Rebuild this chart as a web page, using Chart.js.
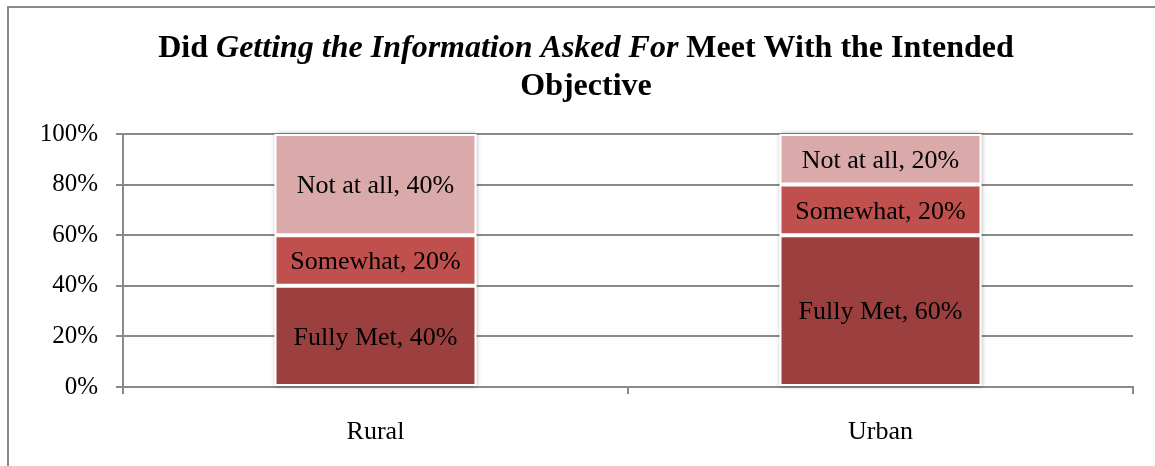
<!DOCTYPE html>
<html>
<head>
<meta charset="utf-8">
<script src="https://cdn.jsdelivr.net/npm/chart.js@4"></script>
<style>
  body { margin: 0; background: #fff; }
  #wrap { position: relative; width: 1155px; height: 466px; overflow: hidden; }
  #frame {
    position: absolute; left: 7px; top: 6px; width: 1200px; height: 500px;
    border-left: 2px solid #8a8a8a; border-top: 2px solid #8a8a8a;
  }
  canvas { position: absolute; left: 0; top: 0; }
</style>
</head>
<body>
<div id="wrap">
  <div id="frame"></div>
  <canvas id="myChart" width="1155" height="466"></canvas>
</div>
<script>
"use strict";

const categories = ["Rural", "Urban"];
const seriesNames = ["Fully Met", "Somewhat", "Not at all"];
const fullyMet = [40, 60];
const somewhat = [20, 20];
const notAtAll = [40, 20];
const seriesColors = ["#9b403e", "#c0504d", "#d9aaa9"];
// title pieces, the middle one is italic
const titleLine1 = [
  ["Did ", false],
  ["Getting the Information Asked For", true],
  [" Meet With the Intended", false],
];
const titleLine2 = "Objective";

const serif = "'Liberation Serif', 'Times New Roman', serif";

// title drawn by hand so part of it can be italic
const mixedTitle = {
  id: "mixedTitle",
  afterDraw(chart) {
    const ctx = chart.ctx;
    const cx = 586;
    const upright = "bold 32px " + serif;
    const slanted = "italic bold 32px " + serif;
    ctx.save();
    ctx.fillStyle = "#000";
    ctx.textBaseline = "alphabetic";
    ctx.textAlign = "left";
    let total = 0;
    titleLine1.forEach((p) => {
      ctx.font = p[1] ? slanted : upright;
      total += ctx.measureText(p[0]).width;
    });
    let x = cx - total / 2;
    titleLine1.forEach((p) => {
      ctx.font = p[1] ? slanted : upright;
      ctx.fillText(p[0], x, 57);
      x += ctx.measureText(p[0]).width;
    });
    ctx.font = upright;
    ctx.textAlign = "center";
    ctx.fillText(titleLine2, cx, 95);
    ctx.restore();
  },
};

// soft grey halo behind each stacked column
const barShadow = {
  id: "barShadow",
  beforeDatasetsDraw(chart) {
    const ctx = chart.ctx;
    const first = chart.getDatasetMeta(0).data;
    const last = chart.getDatasetMeta(chart.data.datasets.length - 1).data;
    ctx.save();
    ctx.shadowColor = "rgba(0,0,0,0.35)";
    ctx.shadowBlur = 5;
    ctx.fillStyle = "#ffffff";
    first.forEach((bar, j) => {
      const top = last[j].y;
      const bottom = bar.base;
      ctx.fillRect(bar.x - bar.width / 2, top, bar.width, bottom - top);
    });
    ctx.restore();
  },
};

// writes "Name, value%" in the middle of every bar segment
const segmentLabels = {
  id: "segmentLabels",
  afterDatasetsDraw(chart) {
    const ctx = chart.ctx;
    ctx.save();
    ctx.font = "26px " + serif;
    ctx.fillStyle = "#000";
    ctx.textAlign = "center";
    ctx.textBaseline = "middle";
    chart.data.datasets.forEach((ds, i) => {
      const meta = chart.getDatasetMeta(i);
      meta.data.forEach((bar, j) => {
        const midY = (bar.y + bar.base) / 2;
        ctx.fillText(ds.label + ", " + ds.data[j] + "%", bar.x, midY + 2);
      });
    });
    ctx.restore();
  },
};

const data = {
  labels: categories,
  datasets: [
    { label: seriesNames[0], data: fullyMet, backgroundColor: seriesColors[0] },
    { label: seriesNames[1], data: somewhat, backgroundColor: seriesColors[1] },
    { label: seriesNames[2], data: notAtAll, backgroundColor: seriesColors[2] },
  ].map((d) => Object.assign(d, {
    borderColor: "#ffffff",
    borderWidth: 2,
    borderSkipped: false,
    barPercentage: 0.4,
    categoryPercentage: 1,
  })),
};

const config = {
  type: "bar",
  data: data,
  options: {
    responsive: false,
    animation: false,
    layout: { padding: { top: 134, right: 22, left: 0, bottom: 0 } },
    plugins: {
      legend: { display: false },
      title: { display: false },
      tooltip: { enabled: false },
    },
    scales: {
      x: {
        stacked: true,
        grid: {
          drawOnChartArea: false,
          drawTicks: true,
          tickLength: 7,
          color: "#8a8a8a",
          lineWidth: 2,
        },
        border: { color: "#8a8a8a", width: 2 },
        ticks: {
          color: "#000",
          font: { family: serif, size: 26 },
          padding: 23,
        },
        afterFit(scale) { scale.height = 79; },
      },
      y: {
        stacked: true,
        min: 0,
        max: 100,
        grid: { color: "#8a8a8a", lineWidth: 2, tickLength: 7 },
        border: { color: "#8a8a8a", width: 2 },
        ticks: {
          stepSize: 20,
          color: "#000",
          font: { family: serif, size: 25 },
          padding: 18,
          callback: (v) => v + "%",
        },
        afterFit(scale) { scale.width = 123; },
      },
    },
  },
  plugins: [barShadow, segmentLabels, mixedTitle],
};

const myChart = new Chart(document.getElementById("myChart"), config);
</script>
</body>
</html>
